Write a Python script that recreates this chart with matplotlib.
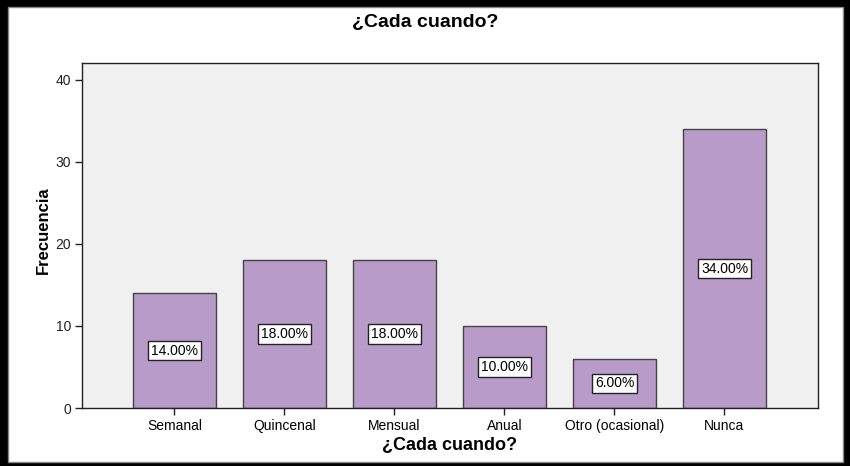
import matplotlib
matplotlib.use("Agg")
import matplotlib.pyplot as plt
from matplotlib.patches import Rectangle

categories = ["Semanal", "Quincenal", "Mensual", "Anual", "Otro (ocasional)", "Nunca"]
frequencies = [14, 18, 18, 10, 6, 34]
percent_labels = ["14.00%", "18.00%", "18.00%", "10.00%", "6.00%", "34.00%"]
y_ticks = [0, 10, 20, 30, 40]

BAR_COLOR = "#b89bc9"
PLOT_BG = "#f0f0f0"

plt.rcParams["font.family"] = ["Liberation Sans", "DejaVu Sans"]

W, H = 850, 466
fig = plt.figure(figsize=(W / 100, H / 100), dpi=100, facecolor="black")

# white canvas inside the thick black frame
fig.patches.append(Rectangle((8 / W, 1 - 462 / H), (843 - 8) / W, (462 - 7) / H,
                             transform=fig.transFigure, facecolor="white",
                             edgecolor="#888888", linewidth=1, zorder=-10))

ax = fig.add_axes([82 / W, 1 - 408 / H, (818 - 82) / W, (408 - 63) / H])
ax.set_facecolor(PLOT_BG)

x = range(len(categories))
ax.bar(x, frequencies, width=0.76, color=BAR_COLOR, edgecolor="#444444",
       linewidth=1.0, zorder=2)

for xi, val, lab in zip(x, frequencies, percent_labels):
    ax.text(xi, val / 2, lab, ha="center", va="center", fontsize=10, zorder=3,
            bbox=dict(boxstyle="square,pad=0.2", facecolor="white",
                      edgecolor="#222222", linewidth=1.0))

ax.set_xlim(-0.84, len(categories) - 1 + 0.85)
ax.set_ylim(0, 42.07)
ax.set_xticks(list(x))
ax.set_xticklabels(categories, fontsize=10)
ax.set_yticks(y_ticks)
ax.set_yticklabels([str(t) for t in y_ticks], fontsize=10, color="#222222")
ax.tick_params(axis="both", direction="out", length=5, width=1, color="#222222", pad=3)

for s in ax.spines.values():
    s.set_color("#222222")
    s.set_linewidth(1)

ax.set_ylabel("Frecuencia", fontsize=12, fontweight="bold")
ax.yaxis.set_label_coords(-31 / (818 - 82), (408 - 230) / (408 - 63))
ax.set_xlabel("¿Cada cuando?", fontsize=13, fontweight="bold", labelpad=3)
fig.text(0.5, 1 - 22 / H, "¿Cada cuando?", ha="center", va="center",
         fontsize=14, fontweight="bold")

fig.savefig("out.png", dpi=100, facecolor=fig.get_facecolor())
